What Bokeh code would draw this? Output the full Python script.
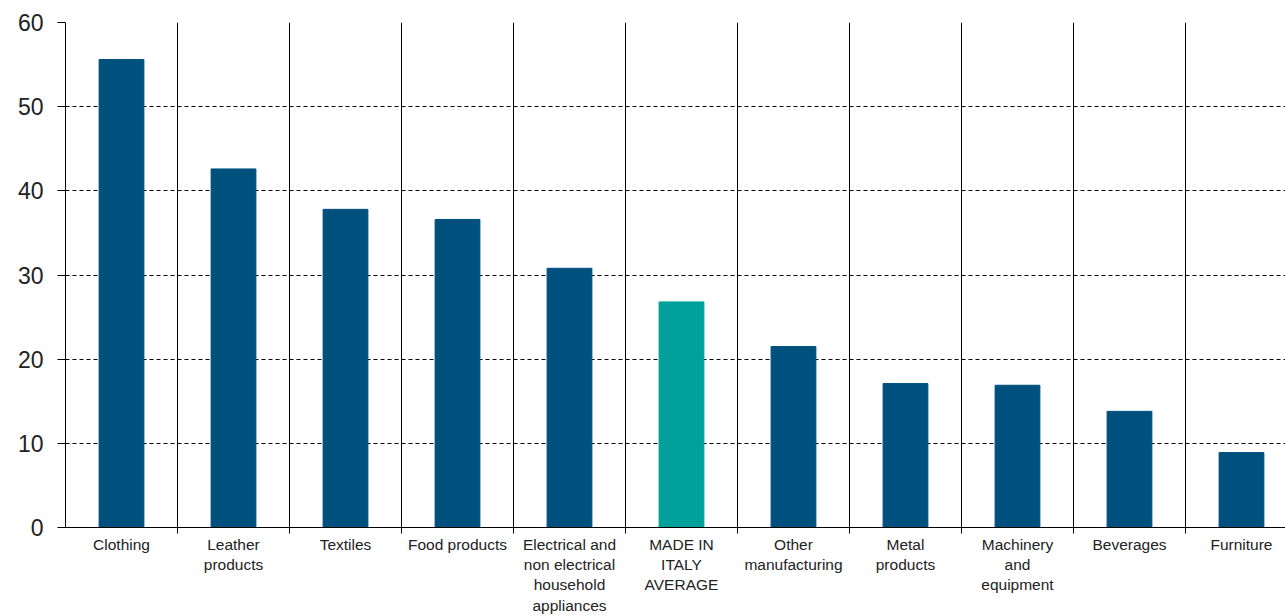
from bokeh.plotting import figure
from bokeh.models import FixedTicker, Range1d, ColumnDataSource
from bokeh.embed import file_html
from bokeh.resources import INLINE

categories = ["Clothing", "Leather\nproducts", "Textiles", "Food products",
              "Electrical and\nnon electrical\nhousehold\nappliances",
              "MADE IN\nITALY\nAVERAGE", "Other\nmanufacturing", "Metal\nproducts",
              "Machinery\nand\nequipment", "Beverages", "Furniture"]
values = [55.6, 42.6, 37.8, 36.6, 30.8, 26.8, 21.5, 17.1, 16.9, 13.8, 8.9]
highlight = "MADE IN\nITALY\nAVERAGE"
y_ticks = [0, 10, 20, 30, 40, 50, 60]

BLUE = "#00507E"
TEAL = "#00A19A"

xs = [i + 0.5 for i in range(len(categories))]
colors = [TEAL if c == highlight else BLUE for c in categories]
src = ColumnDataSource(dict(x=xs, top=values, color=colors))

p = figure(width=1285, height=616, x_range=Range1d(0, 10.893), y_range=Range1d(0, 60),
           output_backend="svg", toolbar_location=None,
           min_border_left=65, min_border_right=0, min_border_top=22, min_border_bottom=89)
p.outline_line_color = None
p.background_fill_color = "white"
p.border_fill_color = "white"

p.vbar(x="x", top="top", bottom=0, width=0.4, color="color", source=src)

# grids
p.xgrid.ticker = FixedTicker(ticks=list(range(1, len(categories))))
p.xgrid.grid_line_color = "black"
p.xgrid.grid_line_width = 1
p.ygrid.ticker = FixedTicker(ticks=y_ticks[1:])
p.ygrid.grid_line_color = "black"
p.ygrid.grid_line_dash = "4 3"
p.ygrid.grid_line_width = 1

# y axis
p.yaxis.ticker = FixedTicker(ticks=y_ticks)
p.yaxis.axis_line_color = "black"
p.yaxis.major_tick_line_color = "black"
p.yaxis.major_tick_out = 8
p.yaxis.major_tick_in = 0
p.yaxis.minor_tick_line_color = None
p.yaxis.major_label_text_font = "Liberation Sans"
p.yaxis.major_label_text_font_size = "23px"
p.yaxis.major_label_text_color = "#222222"
p.yaxis.major_label_standoff = 14

# x axis
p.xaxis.ticker = FixedTicker(ticks=xs, minor_ticks=list(range(1, len(categories))))
p.xaxis.axis_line_color = "black"
p.xaxis.major_tick_line_color = None
p.xaxis.major_tick_out = 0
p.xaxis.major_tick_in = 0
p.xaxis.minor_tick_line_color = "black"
p.xaxis.minor_tick_out = 6
p.xaxis.minor_tick_in = 0
p.xaxis.major_label_overrides = {x: c for x, c in zip(xs, categories)}
p.xaxis.major_label_text_font = "Liberation Sans"
p.xaxis.major_label_text_font_size = "15.5px"
p.xaxis.major_label_text_color = "#222222"
p.xaxis.major_label_standoff = 2

open("out.html", "w").write(file_html(p, INLINE))
